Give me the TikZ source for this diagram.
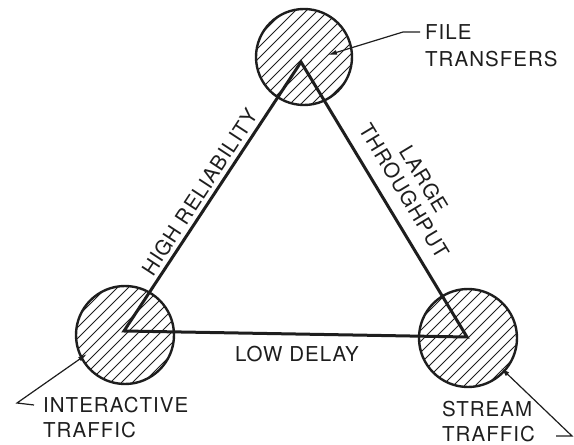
\documentclass[tikz,border=0pt]{standalone}
\usepackage{fontspec}
\newfontfamily\labfont{TeX Gyre Heros}[LetterSpace=5]
\usetikzlibrary{arrows.meta}
\definecolor{ink}{HTML}{1E1E1E}
\begin{document}
\begin{tikzpicture}[x=1pt,y=1pt,
  lab/.style={font=\labfont\fontsize{20.5}{25}\selectfont, text=ink, inner sep=0pt},
  hub/.style={circle, draw=ink, line width=2.4pt, minimum size=#1, inner sep=0pt,
    path picture={
      \foreach \k in {-110,-99,...,110}
        \draw[ink, line width=0.9pt]
          ([xshift=\k pt]path picture bounding box.south west) --
          ([xshift=\k pt]path picture bounding box.north east);}},
  side/.style={draw=ink, line width=3pt, line join=miter},
  leader/.style={draw=ink, line width=1.2pt, -{Latex[length=9pt,width=5pt]}}]
\useasboundingbox (0,0) rectangle (574,445);
% hatched circles
\node[hub=96pt] (top) at (304,388) {};
\node[hub=98pt] (left) at (125,110) {};
\node[hub=98pt] (right) at (468,107) {};
% triangle vertices
\coordinate (vT) at (301,383);
\coordinate (vL) at (124,114);
\coordinate (vR) at (467,108);
\draw[side] (vL) -- (vT) -- (vR) -- cycle;
% edge labels
\node[lab, rotate=56.8] (rel) at (200,253) {HIGH RELIABILITY};
\node[lab, rotate=-58.9, align=center] (thr) at (414,260) {LARGE\\[-2pt]THROUGHPUT};
\node[lab] (delay) at (297,91) {LOW DELAY};
% outer labels
\node[lab, anchor=west, align=left] (ftl) at (425,399) {FILE\\[2pt]TRANSFERS};
\node[lab, anchor=west, align=left] (itl) at (43,27.5) {INTERACTIVE\\TRAFFIC};
\node[lab, anchor=west, align=left] (stl) at (442,23.5) {STREAM\\TRAFFIC};
% leaders
\coordinate (f1) at (420,413);
\coordinate (f2) at (403,413);
\coordinate (f3) at (328,390);
\draw[leader] (f1) -- (f2) -- (f3);
\coordinate (i1) at (34,40);
\coordinate (i2) at (17,42);
\coordinate (i3) at (87,91);
\draw[leader] (i1) -- (i2) -- (i3);
\coordinate (s1) at (556,9);
\coordinate (s2) at (572,9);
\coordinate (s3) at (501,77);
\draw[leader] (s1) -- (s2) -- (s3);
\end{tikzpicture}
\end{document}
